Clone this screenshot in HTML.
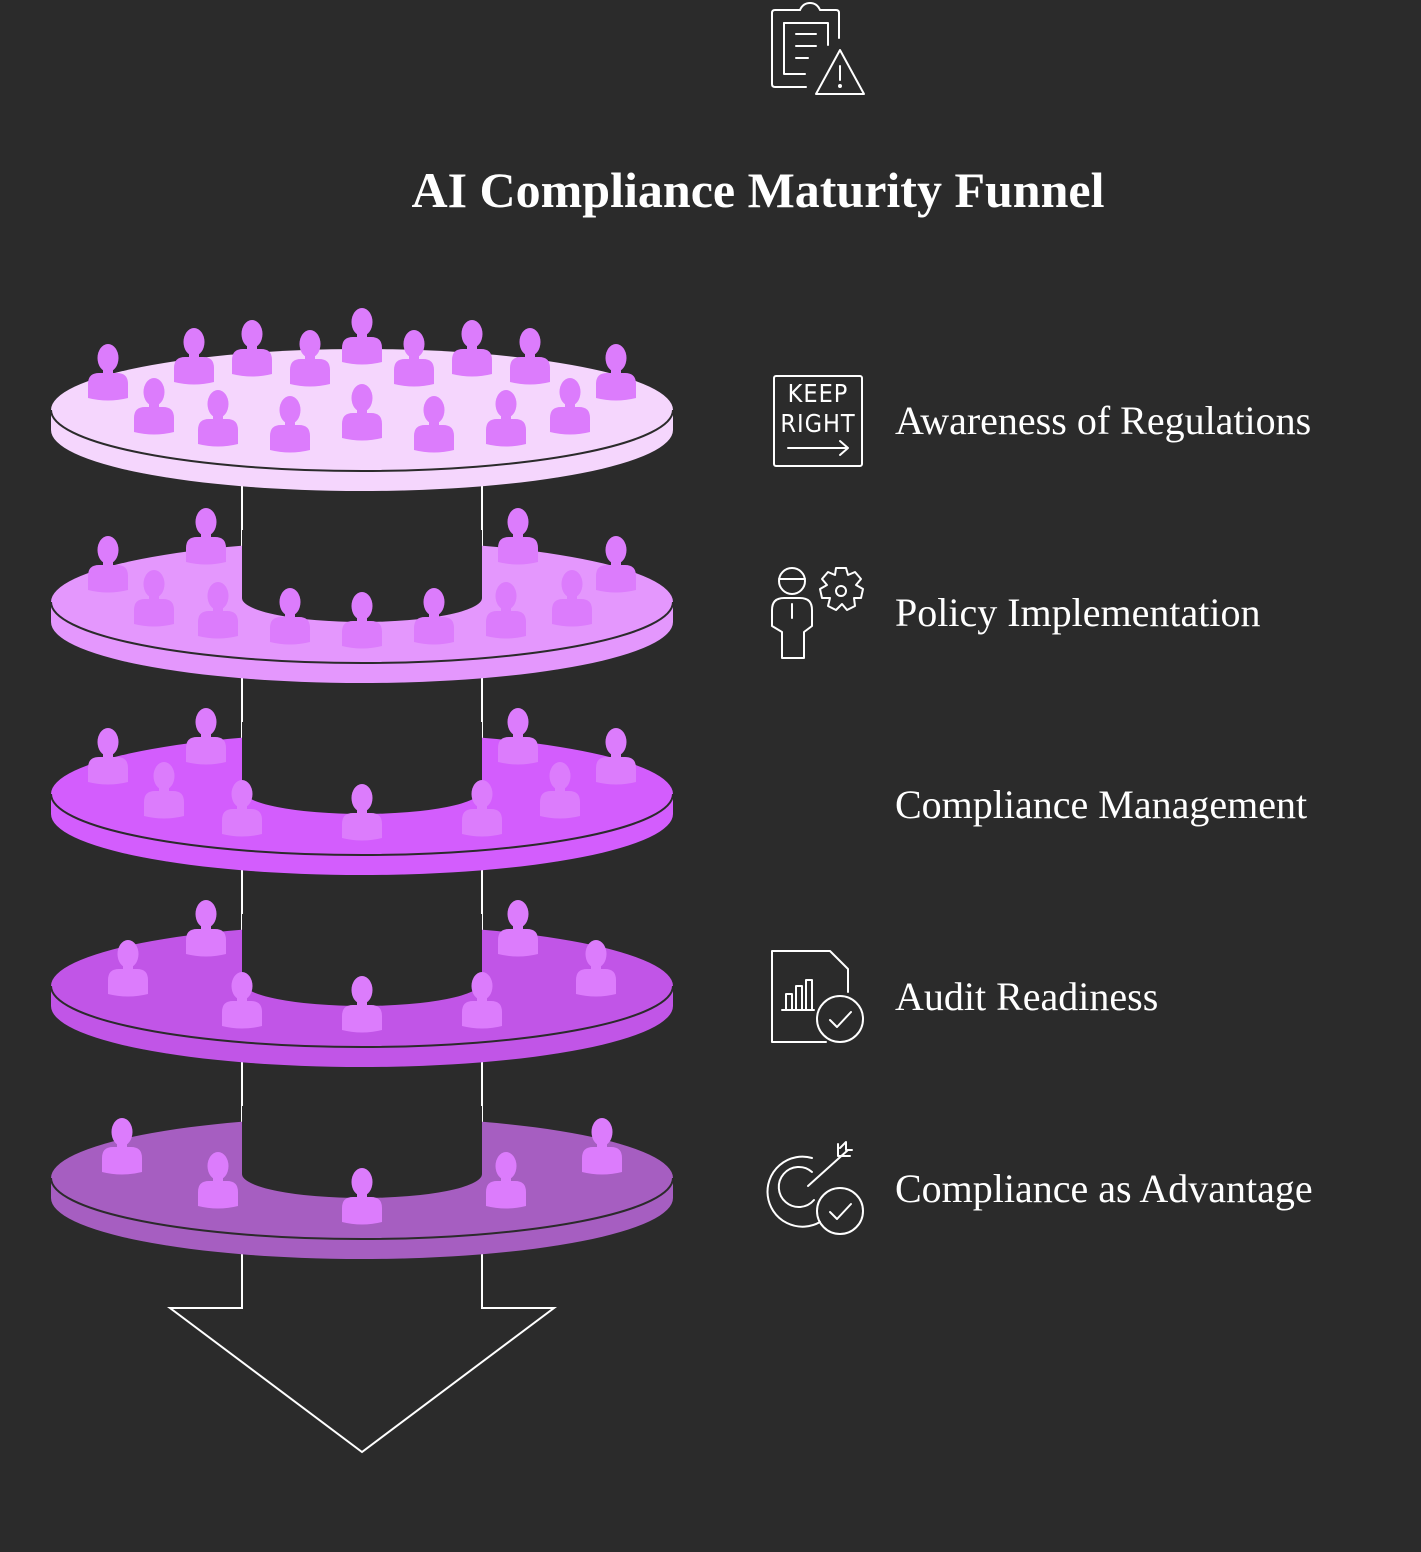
<!DOCTYPE html>
<html><head><style>
html,body{margin:0;padding:0;background:#2b2b2b;}
svg{display:block}
</style></head><body>
<svg width="1421" height="1552" viewBox="0 0 1421 1552" xmlns="http://www.w3.org/2000/svg">
<defs>
<g id="p">
<ellipse cx="0" cy="-42" rx="10.5" ry="14" fill="#dc7cfc"/>
<rect x="-5" y="-34" width="10" height="10" fill="#dc7cfc"/>
<path d="M-20,-2 L-20,-16 Q-20,-27 -9,-27 L9,-27 Q20,-27 20,-16 L20,-2 Q0,3 -20,-2 Z" fill="#dc7cfc"/>
</g>
</defs>
<rect width="1421" height="1552" fill="#2b2b2b"/>

<g fill="none" stroke="#fff" stroke-width="2" stroke-linecap="round" stroke-linejoin="round">
<path d="M800,10 L775,10 Q772,10 772,13 L772,84 Q772,87 775,87 L806,87"/>
<path d="M800,10 Q803,3 810,3 Q817,3 820,10 L836,10 Q839,10 839,13 L839,38"/>
<path d="M805,23 L784,23 L784,74 L805,74"/><path d="M784,23 L828,23 L828,45"/>
<path d="M796,34 L816,34 M796,46 L816,46 M796,58 L808,58"/>
<path d="M840,50 L864,94 L816,94 Z"/><path d="M840,66 L840,80"/><circle cx="840" cy="86" r="1" fill="#fff"/>
</g>

<text x="758" y="207" text-anchor="middle" font-family="Liberation Serif, serif" font-weight="bold" font-size="50" fill="#fff">AI Compliance Maturity Funnel</text>

<g stroke="#fff" stroke-width="2" fill="none">
<path d="M242,485 L242,548 M482,485 L482,548"/>
<path d="M242,677 L242,740 M482,677 L482,740"/>
<path d="M242,869 L242,932 M482,869 L482,932"/>
<path d="M242,1061 L242,1124 M482,1061 L482,1124"/>
<path d="M242,1253 L242,1308 L170,1308 L362,1452 L554,1308 L482,1308 L482,1253"/>
</g>

<ellipse cx="362" cy="430" rx="311" ry="61" fill="#f5d6fd"/>
<rect x="51" y="410" width="622" height="20" fill="#f5d6fd"/>
<ellipse cx="362" cy="410" rx="311" ry="61" fill="#f5d6fd"/>
<path d="M51,410 A311,61 0 0 0 673,410" fill="none" stroke="#2b2b2b" stroke-width="2"/>
<g>
<use href="#p" x="108" y="400"/><use href="#p" x="194" y="384"/><use href="#p" x="252" y="376"/><use href="#p" x="310" y="386"/><use href="#p" x="362" y="364"/><use href="#p" x="414" y="386"/><use href="#p" x="472" y="376"/><use href="#p" x="530" y="384"/><use href="#p" x="616" y="400"/>
<use href="#p" x="154" y="434"/><use href="#p" x="218" y="446"/><use href="#p" x="290" y="452"/><use href="#p" x="362" y="440"/><use href="#p" x="434" y="452"/><use href="#p" x="506" y="446"/><use href="#p" x="570" y="434"/>
</g>

<g>
<ellipse cx="362" cy="622" rx="311" ry="61" fill="#e497fd"/>
<rect x="51" y="602" width="622" height="20" fill="#e497fd"/>
<ellipse cx="362" cy="602" rx="311" ry="61" fill="#e497fd"/>
<path d="M51,602 A311,61 0 0 0 673,602" fill="none" stroke="#2b2b2b" stroke-width="2"/>
<path d="M242,530 L242,598 A120,24 0 0 0 482,598 L482,530 Z" fill="#2b2b2b"/>
<use href="#p" x="108" y="592"/><use href="#p" x="206" y="564"/><use href="#p" x="518" y="564"/><use href="#p" x="616" y="592"/>
<use href="#p" x="154" y="626"/><use href="#p" x="218" y="638"/><use href="#p" x="290" y="644"/><use href="#p" x="362" y="648"/><use href="#p" x="434" y="644"/><use href="#p" x="506" y="638"/><use href="#p" x="572" y="626"/>
</g>

<g>
<ellipse cx="362" cy="814" rx="311" ry="61" fill="#d35dfd"/>
<rect x="51" y="794" width="622" height="20" fill="#d35dfd"/>
<ellipse cx="362" cy="794" rx="311" ry="61" fill="#d35dfd"/>
<path d="M51,794 A311,61 0 0 0 673,794" fill="none" stroke="#2b2b2b" stroke-width="2"/>
<path d="M242,722 L242,790 A120,24 0 0 0 482,790 L482,722 Z" fill="#2b2b2b"/>
<use href="#p" x="108" y="784"/><use href="#p" x="206" y="764"/><use href="#p" x="518" y="764"/><use href="#p" x="616" y="784"/>
<use href="#p" x="164" y="818"/><use href="#p" x="242" y="836"/><use href="#p" x="362" y="840"/><use href="#p" x="482" y="836"/><use href="#p" x="560" y="818"/>
</g>

<g>
<ellipse cx="362" cy="1006" rx="311" ry="61" fill="#c155e7"/>
<rect x="51" y="986" width="622" height="20" fill="#c155e7"/>
<ellipse cx="362" cy="986" rx="311" ry="61" fill="#c155e7"/>
<path d="M51,986 A311,61 0 0 0 673,986" fill="none" stroke="#2b2b2b" stroke-width="2"/>
<path d="M242,914 L242,982 A120,24 0 0 0 482,982 L482,914 Z" fill="#2b2b2b"/>
<use href="#p" x="128" y="996"/><use href="#p" x="206" y="956"/><use href="#p" x="518" y="956"/><use href="#p" x="596" y="996"/>
<use href="#p" x="242" y="1028"/><use href="#p" x="362" y="1032"/><use href="#p" x="482" y="1028"/>
</g>

<g>
<ellipse cx="362" cy="1198" rx="311" ry="61" fill="#a65ec1"/>
<rect x="51" y="1178" width="622" height="20" fill="#a65ec1"/>
<ellipse cx="362" cy="1178" rx="311" ry="61" fill="#a65ec1"/>
<path d="M51,1178 A311,61 0 0 0 673,1178" fill="none" stroke="#2b2b2b" stroke-width="2"/>
<path d="M242,1106 L242,1174 A120,24 0 0 0 482,1174 L482,1106 Z" fill="#2b2b2b"/>
<use href="#p" x="122" y="1174"/><use href="#p" x="602" y="1174"/>
<use href="#p" x="218" y="1208"/><use href="#p" x="362" y="1224"/><use href="#p" x="506" y="1208"/>
</g>

<g font-family="Liberation Serif, serif" font-size="40" fill="#fff">
<text x="895" y="434">Awareness of Regulations</text>
<text x="895" y="626">Policy Implementation</text>
<text x="895" y="818">Compliance Management</text>
<text x="895" y="1010">Audit Readiness</text>
<text x="895" y="1202">Compliance as Advantage</text>
</g>

<g fill="none" stroke="#fff" stroke-width="2" stroke-linecap="round" stroke-linejoin="round">
<rect x="774" y="376" width="88" height="90" rx="2"/>
<path d="M788,448 L848,448 M840,441 L848,448 L840,455"/>
</g>
<g font-family="DejaVu Sans Condensed, DejaVu Sans, sans-serif" font-size="25" fill="#fff" text-anchor="middle" letter-spacing="1">
<text x="818" y="402">KEEP</text><text x="818" y="432">RIGHT</text>
</g>
<g fill="none" stroke="#fff" stroke-width="2" stroke-linecap="round" stroke-linejoin="round">
<circle cx="792" cy="581" r="13"/><path d="M779,579 L805,579"/>
<path d="M772,626 L772,610 Q772,598 784,598 L800,598 Q812,598 812,610 L812,626 L804,632 L804,658 L782,658 L782,632 Z"/>
<path d="M792,604 L792,618"/>
<path d="M836,568 L846,568 L848,575 L855,572 L861,579 L856,585 L863,589 L861,598 L854,598 L855,606 L847,610 L842,604 L836,610 L828,606 L830,598 L822,598 L820,589 L827,585 L822,579 L828,572 L835,575 Z"/>
<circle cx="841" cy="591" r="5"/>
<path d="M826,1042 L772,1042 L772,951 L830,951 L848,969 L848,992"/>
<path d="M786,1010 L786,994 L792,994 L792,1010 M796,1010 L796,986 L802,986 L802,1010 M806,1010 L806,980 L812,980 L812,1010 M782,1010 L814,1010"/>
<circle cx="840" cy="1019" r="23"/><path d="M830,1020 L837,1027 L851,1012"/>
<path d="M812,1158 A35,35 0 1 0 820,1222"/>
<path d="M812,1172 A20,20 0 1 0 814,1200"/>
<path d="M808,1186 L848,1150 M838,1144 L838,1156 L850,1156 M840,1148 L846,1142 L846,1150 L852,1150"/>
<circle cx="840" cy="1211" r="23"/><path d="M830,1212 L837,1219 L851,1204"/>
</g>
</svg>
</body></html>
